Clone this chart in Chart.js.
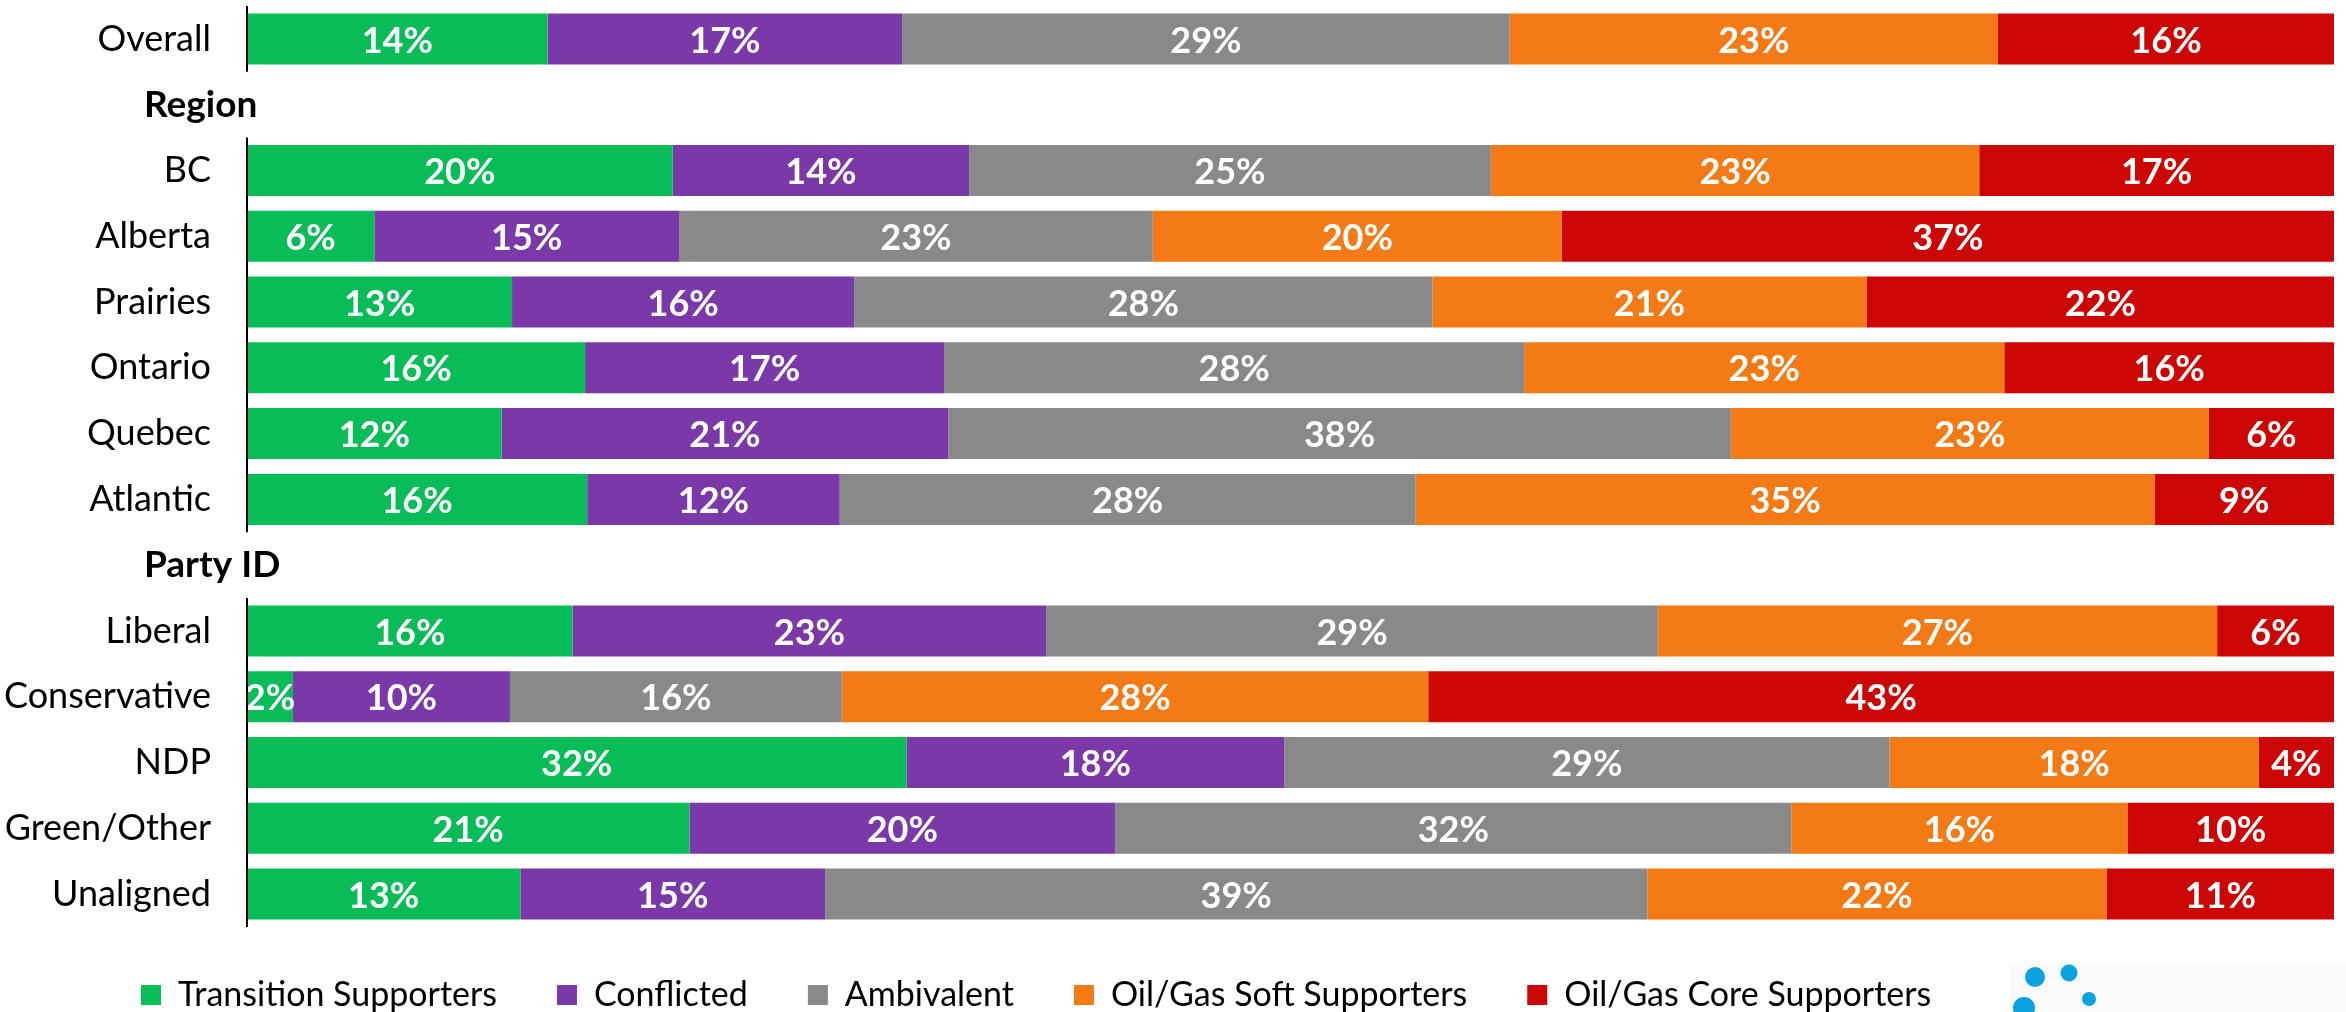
<!DOCTYPE html>
<html>
<head>
<meta charset="utf-8">
<script src="https://cdn.jsdelivr.net/npm/chart.js@4.4.0/dist/chart.umd.min.js"></script>
<style>
  html, body { margin: 0; padding: 0; background: #fff; }
  canvas { display: block; }
</style>
</head>
<body>
<canvas id="segmentChart" width="2346" height="1012"></canvas>
<script>
// rows of the chart, header rows carry no bar
const rowLabels = ['Overall', 'Region', 'BC', 'Alberta', 'Prairies', 'Ontario', 'Quebec', 'Atlantic',
                   'Party ID', 'Liberal', 'Conservative', 'NDP', 'Green/Other', 'Unaligned'];
const headerRows = ['Region', 'Party ID'];

const segmentNames = ['Transition Supporters', 'Conflicted', 'Ambivalent', 'Oil/Gas Soft Supporters', 'Oil/Gas Core Supporters'];

// shares in % (labels show them rounded)
const transition  = [14.4, null, 20.4,  6.1, 12.7, 16.2, 12.2, 16.3, null, 15.6,  2.2, 31.6, 21.2, 13.1];
const conflicted  = [17.0, null, 14.2, 14.6, 16.4, 17.2, 21.4, 12.1, null, 22.7, 10.4, 18.1, 20.4, 14.6];
const ambivalent  = [29.1, null, 25.0, 22.7, 27.7, 27.8, 37.5, 27.6, null, 29.3, 15.9, 29.0, 32.4, 39.4];
const softSupport = [23.4, null, 23.4, 19.6, 20.8, 23.0, 22.9, 35.4, null, 26.8, 28.1, 17.7, 16.1, 22.0];
const coreSupport = [16.1, null, 17.0, 37.0, 22.4, 15.8,  6.0,  8.6, null,  5.6, 43.4,  3.6,  9.9, 10.9];

const colors = ['#08bc58', '#7a38a8', '#898989', '#f37a15', '#cc0605'];

const FONT = 'Lato';
const LEFT_PAD = 81;

// white percentage labels in the middle of each segment
const segmentLabels = {
  id: 'segmentLabels',
  afterDatasetsDraw(chart) {
    const ctx = chart.ctx;
    ctx.save();
    ctx.fillStyle = '#fff';
    ctx.font = 'bold 36px ' + FONT;
    ctx.textAlign = 'center';
    ctx.textBaseline = 'middle';
    chart.data.datasets.forEach((ds, di) => {
      chart.getDatasetMeta(di).data.forEach((bar, i) => {
        const v = ds.data[i];
        if (v == null) return;
        ctx.fillText(Math.round(v) + '%', (bar.x + bar.base) / 2, bar.y + 2);
      });
    });
    ctx.restore();
  }
};

// row labels, bold group headers and an axis line broken per group
const groupAxis = {
  id: 'groupAxis',
  afterDatasetsDraw(chart) {
    const ctx = chart.ctx;
    const y = chart.scales.y;
    const half = (y.getPixelForValue(1) - y.getPixelForValue(0)) / 2;
    const x0 = chart.chartArea.left;

    const groups = [];
    let cur = null;
    rowLabels.forEach((lab, i) => {
      if (headerRows.includes(lab)) { cur = null; return; }
      if (!cur) { cur = [i, i]; groups.push(cur); }
      cur[1] = i;
    });

    ctx.save();
    ctx.strokeStyle = '#000';
    ctx.lineWidth = 2;
    groups.forEach(g => {
      ctx.beginPath();
      ctx.moveTo(x0, y.getPixelForValue(g[0]) - half);
      ctx.lineTo(x0, y.getPixelForValue(g[1]) + half);
      ctx.stroke();
    });

    ctx.fillStyle = '#000';
    ctx.textBaseline = 'middle';
    rowLabels.forEach((lab, i) => {
      const py = y.getPixelForValue(i);
      if (headerRows.includes(lab)) {
        ctx.font = 'bold 37px ' + FONT;
        ctx.textAlign = 'left';
        ctx.fillText(lab, 144, py);
      } else {
        ctx.font = '36px ' + FONT;
        ctx.textAlign = 'right';
        ctx.fillText(lab, x0 - 36, py);
      }
    });
    ctx.restore();
  }
};

// legend row sits a little higher than its layout box
const legendShift = {
  id: 'legendShift',
  afterLayout(chart) {
    chart.legend.top -= 9;
  }
};

// small dotted logo bottom right
const logoDots = {
  id: 'logoDots',
  afterDraw(chart) {
    const ctx = chart.ctx;
    const w = chart.width, h = chart.height;
    ctx.save();
    ctx.fillStyle = '#fafafa';
    ctx.fillRect(w - 336, h - 49, 336, 49);
    ctx.fillStyle = '#0aa3df';
    [[-311, -35, 10], [-277, -39, 8.5], [-257, -13, 7], [-322, -4, 11]].forEach(d => {
      ctx.beginPath();
      ctx.arc(w + d[0], h + d[1], d[2], 0, Math.PI * 2);
      ctx.fill();
    });
    ctx.restore();
  }
};

const seriesData = [transition, conflicted, ambivalent, softSupport, coreSupport];

new Chart(document.getElementById('segmentChart').getContext('2d'), {
  type: 'bar',
  data: {
    labels: rowLabels,
    datasets: segmentNames.map((name, i) => ({
      label: name,
      data: seriesData[i],
      backgroundColor: colors[i],
      borderWidth: 0,
      categoryPercentage: 1,
      barPercentage: 0.775
    }))
  },
  options: {
    indexAxis: 'y',
    responsive: false,
    animation: false,
    layout: { padding: { top: 6, right: 12, bottom: 0, left: LEFT_PAD } },
    scales: {
      x: { stacked: true, min: 0, max: 100, display: false },
      y: {
        stacked: true,
        grid: { display: false },
        border: { display: false },
        ticks: { display: false },
        afterFit: function(scale) { scale.width = 247 - LEFT_PAD; }
      }
    },
    plugins: {
      tooltip: { enabled: false },
      legend: {
        position: 'bottom',
        align: 'start',
        maxHeight: 85,
        labels: {
          color: '#000',
          boxWidth: 20,
          boxHeight: 20,
          padding: 60,
          font: { family: FONT, size: 34 }
        }
      }
    }
  },
  plugins: [segmentLabels, groupAxis, legendShift, logoDots]
});
</script>
</body>
</html>
